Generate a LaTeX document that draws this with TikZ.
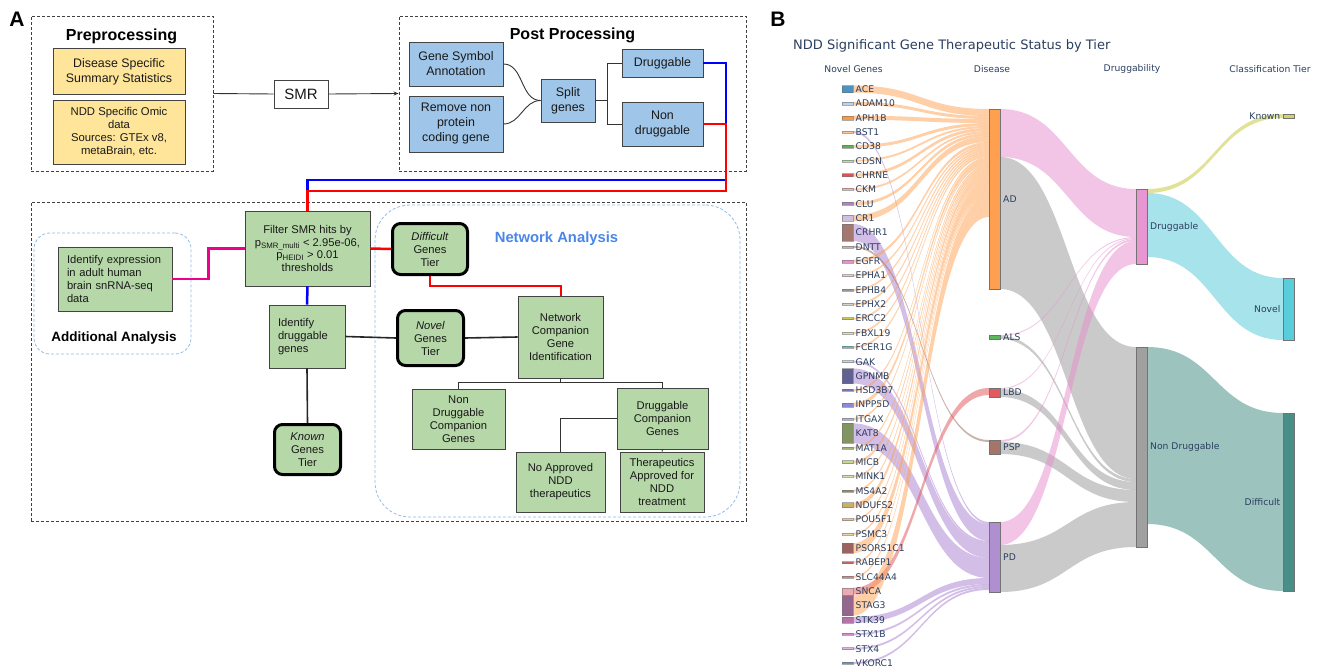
\documentclass[tikz,border=0pt]{standalone}
\usepackage{fontspec}
\setmainfont{Liberation Sans}
\newfontfamily\plotfont{DejaVu Sans}
\usetikzlibrary{arrows.meta}

% panel A colours
\definecolor{boxline}{HTML}{434343}
\definecolor{yfill}{HTML}{FFE599}
\definecolor{bfill}{HTML}{9FC5E8}
\definecolor{gfill}{HTML}{B6D7A8}
\definecolor{netblue}{HTML}{4A86E8}
\definecolor{areablue}{HTML}{8FBCE8}
\definecolor{plottext}{HTML}{2A3F5F}

% gene node colours
\definecolor{cACE}{HTML}{1F77B4}
\definecolor{cADAM10}{HTML}{AEC7E8}
\definecolor{cAPH1B}{HTML}{FF7F0E}
\definecolor{cBST1}{HTML}{FFBB78}
\definecolor{cCD38}{HTML}{2CA02C}
\definecolor{cCDSN}{HTML}{98DF8A}
\definecolor{cCHRNE}{HTML}{D62728}
\definecolor{cCKM}{HTML}{FF9896}
\definecolor{cCLU}{HTML}{9467BD}
\definecolor{cCR1}{HTML}{C5B0D5}
\definecolor{cCRHR1}{HTML}{8C564B}
\definecolor{cDNTT}{HTML}{C49C94}
\definecolor{cEGFR}{HTML}{E377C2}
\definecolor{cEPHA1}{HTML}{F7B6D2}
\definecolor{cEPHB4}{HTML}{7F7F7F}
\definecolor{cEPHX2}{HTML}{C7C7C7}
\definecolor{cERCC2}{HTML}{BCBD22}
\definecolor{cFBXL19}{HTML}{DBDB8D}
\definecolor{cFCER1G}{HTML}{17BECF}
\definecolor{cGAK}{HTML}{9EDAE5}
\definecolor{cGPNMB}{HTML}{393B79}
\definecolor{cHSD3B7}{HTML}{5254A3}
\definecolor{cINPP5D}{HTML}{6B6ECF}
\definecolor{cITGAX}{HTML}{9C9EDE}
\definecolor{cKAT8}{HTML}{637939}
\definecolor{cMAT1A}{HTML}{8CA252}
\definecolor{cMICB}{HTML}{B5CF6B}
\definecolor{cMINK1}{HTML}{CEDB9C}
\definecolor{cMS4A2}{HTML}{8C6D31}
\definecolor{cNDUFS2}{HTML}{BD9E39}
\definecolor{cPOU5F1}{HTML}{E7BA52}
\definecolor{cPSMC3}{HTML}{E7CB94}
\definecolor{cPSORS1C1}{HTML}{843C39}
\definecolor{cRABEP1}{HTML}{AD494A}
\definecolor{cSLC44A4}{HTML}{D6616B}
\definecolor{cSNCA}{HTML}{E7969C}
\definecolor{cSTAG3}{HTML}{7B4173}
\definecolor{cSTK39}{HTML}{A55194}
\definecolor{cSTX1B}{HTML}{CE6DBD}
\definecolor{cSTX4}{HTML}{DE9ED6}
\definecolor{cVKORC1}{HTML}{3182BD}

% sankey node and link colours
\definecolor{nAD}{RGB}{255,160,80}
\definecolor{nALS}{RGB}{92,184,92}
\definecolor{nLBD}{RGB}{225,90,95}
\definecolor{nPSP}{RGB}{165,117,106}
\definecolor{nPD}{RGB}{176,143,208}
\definecolor{nDrug}{RGB}{232,150,210}
\definecolor{nNon}{RGB}{160,160,160}
\definecolor{nKnown}{RGB}{212,212,100}
\definecolor{nNovel}{RGB}{90,205,220}
\definecolor{nDiff}{RGB}{74,143,135}
\definecolor{lAD}{RGB}{255,160,80}
\definecolor{lPD}{RGB}{165,125,205}
\definecolor{lPSP}{RGB}{150,100,90}
\definecolor{lLBD}{RGB}{225,80,85}
\definecolor{lDrug}{RGB}{230,140,205}
\definecolor{lNon}{RGB}{150,150,150}
\definecolor{lKnown}{RGB}{195,195,50}
\definecolor{lNovel}{RGB}{80,200,215}
\definecolor{lDiff}{RGB}{60,135,125}

\tikzset{
  procbox/.style={draw=boxline, line width=0.9pt, align=center, inner sep=2pt, text=black!90},
  ybox/.style={procbox, fill=yfill, font=\fontsize{12.4}{15}\selectfont},
  bbox/.style={procbox, fill=bfill, font=\fontsize{12.4}{15}\selectfont},
  gbox/.style={procbox, fill=gfill, font=\fontsize{11.2}{13}\selectfont},
  tierbox/.style={gbox, draw=black, line width=3pt, rounded corners=8pt},
  stagebox/.style={draw=black!75, dash pattern=on 3pt off 2pt, line width=0.9pt, inner sep=0pt},
  areabox/.style={draw=areablue, dash pattern=on 3pt off 2pt, line width=0.8pt, inner sep=0pt},
  headtext/.style={font=\fontsize{16}{19}\selectfont\bfseries},
  wire/.style={draw=black!80, line width=0.9pt},
  tierwire/.style={draw=black!85, line width=1.6pt},
  bluewire/.style={draw=blue, line width=2.5pt},
  redwire/.style={draw=red, line width=2.5pt},
  magwire/.style={draw=magenta, line width=2.5pt},
  sknode/.style={draw=black!55, line width=0.4pt},
  sklabel/.style={font=\plotfont\fontsize{9.2}{11}\selectfont, text=plottext, inner sep=0pt},
}

% a sankey ribbon from (x1, a1..b1) to (x2, a2..b2)
\newcommand\skRibbon[7]{%
  \fill[fill=#1, fill opacity=0.5] (#2,#3) .. controls ({(#2+#5)/2},#3) and ({(#2+#5)/2},#6) .. (#5,#6)
    -- (#5,#7) .. controls ({(#2+#5)/2},#7) and ({(#2+#5)/2},#4) .. (#2,#4) -- cycle;}

% gene -> disease ribbon, stacked on the disease node through a running cursor
\newcommand\skLink[4]{%
  \pgfmathsetmacro\skSa{89+14.35*#2-#3/2}%
  \pgfmathsetmacro\skSb{\skSa+#3}%
  \edef\skTa{\csname #4\endcsname}%
  \pgfmathsetmacro\skTb{\skTa+#3}%
  \skRibbon{#1}{853}{\skSa}{\skSb}{989}{\skTa}{\skTb}%
  \expandafter\xdef\csname #4\endcsname{\skTb}%
}

\begin{document}
\begin{tikzpicture}[x=1pt,y=-1pt]
\useasboundingbox (0,0) rectangle (1322,669);

% ---------------- Panel A ----------------
\node[font=\fontsize{21}{21}\selectfont\bfseries] (labA) at (17,19) {A};

\node[stagebox, minimum width=182, minimum height=155] (prebox) at (122,93.5) {};
\node[stagebox, minimum width=347, minimum height=155] (postbox) at (572.5,93.5) {};
\node[stagebox, minimum width=715, minimum height=319] (lowbox) at (388.5,361.5) {};
\node[areabox, rounded corners=16pt, minimum width=157, minimum height=121] (addbox) at (112.5,293.5) {};
\node[areabox, rounded corners=35pt, minimum width=365, minimum height=312] (netbox) at (557.5,361) {};

\node[headtext] (pretitle) at (121.5,36) {Preprocessing};
\node[headtext] (posttitle) at (572.5,35) {Post Processing};
\node[font=\fontsize{13.5}{16}\selectfont\bfseries] (addtitle) at (114,338) {Additional Analysis};
\node[font=\fontsize{14.8}{17}\selectfont\bfseries, text=netblue] (nettitle) at (556.5,239) {Network Analysis};

% preprocessing inputs
\node[ybox, minimum width=132, minimum height=46] (pre1) at (119,71.5) {Disease Specific\\Summary Statistics};
\node[ybox, minimum width=132, minimum height=64, font=\fontsize{11.3}{13}\selectfont] (pre2) at (119,132)
  {NDD Specific Omic\\data\\Sources: GTEx v8,\\metaBrain, etc.};

\node[procbox, fill=white, minimum width=54, minimum height=28, font=\fontsize{15}{17}\selectfont] (smr) at (301,94) {SMR};

% post processing
\node[bbox, minimum width=94, minimum height=44] (gsa) at (456,64) {Gene Symbol\\Annotation};
\node[bbox, minimum width=94, minimum height=56] (rem) at (456,124) {Remove non\\protein\\coding gene};
\node[bbox, minimum width=54, minimum height=43] (split) at (568,100.5) {Split\\genes};
\node[bbox, minimum width=81, minimum height=28] (drug) at (662.5,63) {Druggable};
\node[bbox, minimum width=81, minimum height=44] (nondrug) at (662.5,124) {Non\\druggable};

% lower stage
\node[gbox, minimum width=114, minimum height=64, text width=96, align=left] (ident) at (115,279)
  {Identify expression in adult human brain snRNA-seq data};
\node[gbox, minimum width=125, minimum height=75, font=\fontsize{11.2}{12.6}\selectfont] (filter) at (307.5,248.5)
  {Filter SMR hits by\\p\textsubscript{SMR\_multi} < 2.95e-06,\\p\textsubscript{HEIDI} > 0.01\\thresholds};
\node[gbox, minimum width=76, minimum height=63, text width=58, align=left] (identdrug) at (307,336.5)
  {Identify\\druggable\\genes};
\node[tierbox, minimum width=75, minimum height=51] (difficult) at (430,249) {\textit{Difficult}\\Genes\\Tier};
\node[tierbox, minimum width=66, minimum height=55] (novel) at (430.5,338) {\textit{Novel}\\Genes\\Tier};
\node[tierbox, minimum width=66, minimum height=50] (known) at (307.5,449.5) {\textit{Known}\\Genes\\Tier};
\node[gbox, minimum width=85, minimum height=82] (netcomp) at (560.5,337) {Network\\Companion\\Gene\\Identification};
\node[gbox, minimum width=93, minimum height=60] (ndcomp) at (458.5,419) {Non\\Druggable\\Companion\\Genes};
\node[gbox, minimum width=91, minimum height=61] (dcomp) at (662.5,418.5) {Druggable\\Companion\\Genes};
\node[gbox, minimum width=89, minimum height=60] (noappr) at (560.5,482) {No Approved\\NDD\\therapeutics};
\node[gbox, minimum width=84, minimum height=60] (therap) at (662,482) {Therapeutics\\Approved for\\NDD\\treatment};

% connectors
\draw[wire] (prebox.east) -- (smr.west);
\draw[wire, -{Stealth[length=5pt,width=4pt]}] (smr.east) -- (postbox.west);
\draw[wire] (gsa.east) to[out=0,in=180] (split.west);
\draw[wire] (rem.east) to[out=0,in=180] (split.west);
\draw[wire] (split.east) -- ++(13,0);
\draw[wire] (drug.west) -- ++(-14,0) |- (nondrug.west);

\draw[bluewire] (drug.east) -| (726,180) -| (filter.north);
\draw[redwire] (nondrug.east) -| (726,191) -| (filter.north);
\draw[magwire] (ident.east) -- ++(36,0) |- (filter.west);
\draw[bluewire] (filter.south) -- (identdrug.north);
\draw[redwire] (filter.east) -- (difficult.west);
\draw[redwire, line width=2pt] (difficult.south) -- ++(0,10) -| (netcomp.north);
\draw[tierwire] (identdrug.east) -- (novel.west);
\draw[tierwire] (novel.east) -- (netcomp.west);
\draw[tierwire] (identdrug.south) -- (known.north);
\draw[wire] (netcomp.south) -- ++(0,5);
\draw[wire] (ndcomp.north) -- ++(0,-6) -| (dcomp.north);
\draw[wire] (dcomp.west) -| (noappr.north);
\draw[wire] (dcomp.south) -- (therap.north);

% ---------------- Panel B ----------------
\node[font=\fontsize{21}{21}\selectfont\bfseries] (labB) at (778,19) {B};
\node[anchor=west, font=\plotfont\fontsize{13}{15}\selectfont, text=plottext, inner sep=0pt] (sktitle) at (793,46)
  {NDD Significant Gene Therapeutic Status by Tier};
\node[sklabel] (hGenes) at (853.5,69) {Novel Genes};
\node[sklabel] (hDisease) at (992,69) {Disease};
\node[sklabel] (hDrug) at (1132,69) {Druggability};
\node[sklabel] (hTier) at (1270,69) {Classification Tier};

% gene -> disease flows
\gdef\curAD{109}\gdef\curPD{522}\gdef\curPSP{440}\gdef\curLBD{388}
\foreach \c/\i/\h/\t in {
  lAD/0/7/curAD, lAD/1/3/curAD, lAD/2/4/curAD, lPD/3/2/curPD, lAD/4/3/curAD,
  lAD/5/2/curAD, lAD/6/3/curAD, lAD/7/2/curAD, lAD/8/3/curAD, lAD/9/6/curAD,
  lPD/10/17/curPD, lPSP/11/2/curPSP, lAD/12/3/curAD, lAD/13/2/curAD, lAD/14/2/curAD,
  lAD/15/2/curAD, lAD/16/2/curAD, lAD/17/2/curAD, lAD/18/2/curAD, lPD/19/2/curPD,
  lPD/20/15/curPD, lAD/21/2/curAD, lAD/22/4/curAD, lAD/23/2/curAD, lPD/24/20/curPD,
  lAD/25/2/curAD, lAD/26/3/curAD, lAD/27/2/curAD, lAD/28/2/curAD, lAD/29/5/curAD,
  lAD/30/2/curAD, lAD/31/2/curAD, lAD/32/10/curAD, lAD/33/2/curAD, lAD/34/2/curAD,
  lLBD/35/7/curLBD, lAD/36/20/curAD, lPD/37/6/curPD, lPD/38/2/curPD, lPD/39/2/curPD,
  lPD/40/2/curPD}{\skLink{\c}{\i}{\h}{\t}}

% disease -> druggability flows
\skRibbon{lDrug}{1000}{109}{157}{1136}{189}{237}
\skRibbon{lNon}{1000}{157}{289}{1136}{347}{479}
\skRibbon{lDrug}{1000}{335}{336}{1136}{237}{238}
\skRibbon{lNon}{1000}{336}{339}{1136}{479}{482}
\skRibbon{lDrug}{1000}{388}{389}{1136}{238}{239}
\skRibbon{lNon}{1000}{389}{397}{1136}{482}{490}
\skRibbon{lDrug}{1000}{440}{442}{1136}{239}{241}
\skRibbon{lNon}{1000}{442}{454}{1136}{490}{502}
\skRibbon{lDrug}{1000}{522}{545}{1136}{241}{264}
\skRibbon{lNon}{1000}{545}{592}{1136}{502}{547}

% druggability -> tier flows
\skRibbon{lKnown}{1147}{189}{193}{1283}{114}{118}
\skRibbon{lNovel}{1147}{193}{257}{1283}{278}{340}
\skRibbon{lDiff}{1147}{347}{524}{1283}{413}{591}

% gene nodes and labels
\foreach \i/\g/\h in {
  0/ACE/7, 1/ADAM10/3, 2/APH1B/4, 3/BST1/2, 4/CD38/3, 5/CDSN/2, 6/CHRNE/3,
  7/CKM/2, 8/CLU/3, 9/CR1/6, 10/CRHR1/17, 11/DNTT/2, 12/EGFR/3, 13/EPHA1/2,
  14/EPHB4/2, 15/EPHX2/2, 16/ERCC2/2, 17/FBXL19/2, 18/FCER1G/2, 19/GAK/2,
  20/GPNMB/15, 21/HSD3B7/2, 22/INPP5D/4, 23/ITGAX/2, 24/KAT8/20, 25/MAT1A/2,
  26/MICB/3, 27/MINK1/2, 28/MS4A2/2, 29/NDUFS2/5, 30/POU5F1/2, 31/PSMC3/2,
  32/PSORS1C1/10, 33/RABEP1/2, 34/SLC44A4/2, 35/SNCA/7, 36/STAG3/20,
  37/STK39/6, 38/STX1B/2, 39/STX4/2, 40/VKORC1/2}{
  \fill[fill=c\g, fill opacity=0.8] (842,{89+14.35*\i-\h/2}) rectangle ++(11,\h);
  \draw[sknode, draw opacity=0.6] (842,{89+14.35*\i-\h/2}) rectangle ++(11,\h);
  \node[sklabel, anchor=west] (g\i) at (855.5,{89+14.35*\i}) {\g};
}

% disease nodes
\filldraw[sknode, fill=nAD] (989,109) rectangle (1000,289);
\filldraw[sknode, fill=nALS] (989,335) rectangle (1000,339);
\filldraw[sknode, fill=nLBD] (989,388) rectangle (1000,397);
\filldraw[sknode, fill=nPSP] (989,440) rectangle (1000,454);
\filldraw[sknode, fill=nPD] (989,522) rectangle (1000,592);
\node[sklabel, anchor=west] (tAD) at (1003,199) {AD};
\node[sklabel, anchor=west] (tALS) at (1003,337) {ALS};
\node[sklabel, anchor=west] (tLBD) at (1003,392.5) {LBD};
\node[sklabel, anchor=west] (tPSP) at (1003,447) {PSP};
\node[sklabel, anchor=west] (tPD) at (1003,557) {PD};

% druggability nodes
\filldraw[sknode, fill=nDrug] (1136,189) rectangle (1147,264);
\filldraw[sknode, fill=nNon] (1136,347) rectangle (1147,547);
\node[sklabel, anchor=west] (tDrug) at (1150,226.5) {Druggable};
\node[sklabel, anchor=west] (tNon) at (1150,447) {Non Druggable};

% tier nodes
\filldraw[sknode, fill=nKnown] (1283,114) rectangle (1294,118);
\filldraw[sknode, fill=nNovel] (1283,278) rectangle (1294,340);
\filldraw[sknode, fill=nDiff] (1283,413) rectangle (1294,591);
\node[sklabel, anchor=east] (tKnown) at (1280.5,116) {Known};
\node[sklabel, anchor=east] (tNovel) at (1280.5,309) {Novel};
\node[sklabel, anchor=east] (tDiff) at (1280.5,502) {Difficult};
\end{tikzpicture}
\end{document}
